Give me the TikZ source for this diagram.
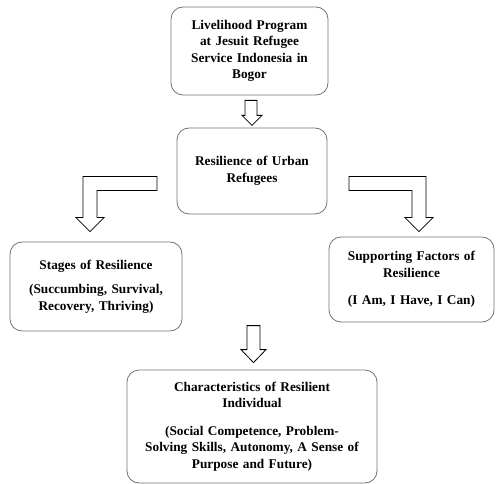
\documentclass[tikz,border=0pt]{standalone}
\usepackage{fontspec}
\setmainfont{Liberation Serif}
\begin{document}
\begin{tikzpicture}[
    x=1pt, y=-1pt,
    box/.style={rectangle, draw=black!55, line width=0.8pt, rounded corners=12pt,
                align=center, inner sep=0pt, font=\bfseries\fontsize{13.3}{16.5}\selectfont},
    hollow/.style={draw, line width=0.8pt, fill=white, line join=miter}
]
    \useasboundingbox (0,0) rectangle (496,484);

    % boxes
    \node[box, minimum width=157pt, minimum height=88pt, text width=150pt] (program) at (249.5,51)
        {Livelihood Program\\at Jesuit Refugee\\Service Indonesia in\\Bogor};
    \node[box, minimum width=150pt, minimum height=86pt, text width=144pt] (urban) at (252,171)
        {Resilience of Urban\\Refugees};
    \node[box, minimum width=172pt, minimum height=89pt, text width=166pt] (stages) at (96,286.5)
        {Stages of Resilience\\[8pt](Succumbing, Survival,\\Recovery, Thriving)};
    \node[box, minimum width=165pt, minimum height=85pt, text width=160pt] (factors) at (411.5,279.5)
        {Supporting Factors of\\Resilience\\[11pt](I Am, I Have, I Can)};
    \node[box, minimum width=250pt, minimum height=113pt, text width=244pt] (traits) at (252,426.5)
        {Characteristics of Resilient\\Individual\\[11pt](Social Competence, Problem-\\Solving Skills, Autonomy, A Sense of\\Purpose and Future)};

    % block arrows
    \begin{scope}[shift={(program.south)}]
        \draw[hollow] (-4.5,5) -- (7.5,5) -- (7.5,20) -- (12.5,20) -- (2.5,30)
            -- (-7.5,20) -- (-4.5,20) -- cycle;
    \end{scope}
    \begin{scope}[shift={(stages.north)}]
        \draw[hollow] (61,-65) -- (-13,-65) -- (-13,-24) -- (-20,-24) -- (-6,-10)
            -- (8,-24) -- (1,-24) -- (1,-51) -- (61,-51) -- cycle;
    \end{scope}
    \begin{scope}[shift={(factors.north)}]
        \draw[hollow] (-62.5,-60) -- (14.5,-60) -- (14.5,-19) -- (21.5,-19) -- (7.5,-5)
            -- (-6.5,-19) -- (0.5,-19) -- (0.5,-46) -- (-62.5,-46) -- cycle;
    \end{scope}
    \begin{scope}[shift={(traits.north)}]
        \draw[hollow] (-5,-44) -- (8,-44) -- (8,-20) -- (14,-20) -- (1.5,-7)
            -- (-11,-20) -- (-5,-20) -- cycle;
    \end{scope}
\end{tikzpicture}
\end{document}
